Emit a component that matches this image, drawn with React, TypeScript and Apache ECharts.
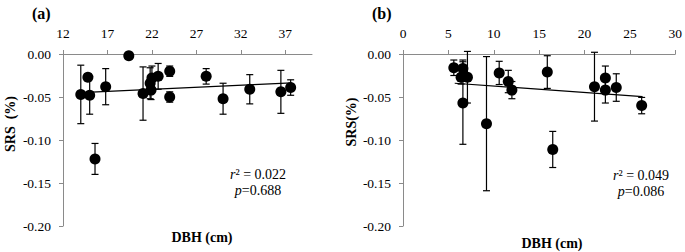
import React, { useEffect, useRef } from "react";
import * as echarts from "echarts";

// Panel (a)
const aDBH = [14.0, 14.8, 15.0, 15.6, 16.8, 19.4, 21.0, 21.8, 22.0, 21.9, 22.7, 24.0, 24.0, 28.1, 30.0, 33.0, 36.5, 37.6];
const aSRS = [-0.047, -0.027, -0.048, -0.122, -0.038, -0.002, -0.046, -0.034, -0.028, -0.042, -0.026, -0.020, -0.050, -0.026, -0.052, -0.041, -0.044, -0.039];
const aErr = [0.034, 0.004, 0.022, 0.018, 0.021, 0, 0.031, 0.018, 0.014, 0.011, 0.015, 0.006, 0.006, 0.009, 0.018, 0.017, 0.025, 0.009];
const aTrend = [[14.0, -0.045], [37.7, -0.0335]];
const aTicks = [12, 17, 22, 27, 32, 37];

// Panel (b)
const bDBH = [5.6, 6.6, 6.4, 7.1, 6.6, 9.2, 10.6, 11.6, 12.0, 15.9, 16.5, 21.1, 22.3, 22.3, 23.5, 26.3];
const bSRS = [-0.016, -0.017, -0.027, -0.027, -0.057, -0.081, -0.022, -0.032, -0.042, -0.021, -0.111, -0.038, -0.028, -0.042, -0.039, -0.060];
const bErr = [0.009, 0.01, 0.008, 0.03, 0.048, 0.078, 0.0135, 0.013, 0.01, 0.019, 0.021, 0.04, 0.014, 0.015, 0.016, 0.0095];
const bTrend = [[5.7, -0.034], [26.4, -0.0496]];

const yMin = -0.2;
const yMax = 0;

const FONT = "Liberation Serif";
const AXIS_GRAY = "#8a8a8a";
const LABEL_SIZE = 13.5;

function errRender(params: any, api: any) {
  const x = api.value(0);
  const y = api.value(1);
  const e = api.value(2);
  if (!e) return { type: "group", children: [] };
  const top = api.coord([x, y + e]);
  const bot = api.coord([x, y - e]);
  const c = 3.5;
  const style = { stroke: "#000", lineWidth: 1.2 };
  return {
    type: "group",
    children: [
      { type: "line", shape: { x1: top[0], y1: top[1], x2: bot[0], y2: bot[1] }, style },
      { type: "line", shape: { x1: top[0] - c, y1: top[1], x2: top[0] + c, y2: top[1] }, style },
      { type: "line", shape: { x1: bot[0] - c, y1: bot[1], x2: bot[0] + c, y2: bot[1] }, style },
    ],
  };
}

function xAxisFor(gridIndex: number, min: number, max: number, ticks?: number[]) {
  const ax: any = {
    gridIndex,
    type: "value",
    position: "top",
    min,
    max,
    axisLine: { show: true, onZero: false, lineStyle: { color: AXIS_GRAY, width: 1 } },
    axisTick: { show: true, inside: false, length: 4, lineStyle: { color: AXIS_GRAY } },
    axisLabel: { color: "#000", fontFamily: FONT, fontSize: LABEL_SIZE, margin: 14 },
    splitLine: { show: false },
  };
  if (ticks) {
    ax.axisTick.customValues = ticks;
    ax.axisLabel.customValues = ticks;
  } else {
    ax.interval = 5;
  }
  return ax;
}

function yAxisFor(gridIndex: number) {
  return {
    gridIndex,
    type: "value",
    min: yMin,
    max: yMax,
    interval: 0.05,
    axisLine: { show: true, onZero: false, lineStyle: { color: AXIS_GRAY, width: 1 } },
    axisTick: { show: true, inside: false, length: 4, lineStyle: { color: AXIS_GRAY } },
    axisLabel: {
      color: "#000",
      fontFamily: FONT,
      fontSize: LABEL_SIZE,
      margin: 12,
      formatter: (v: number) => v.toFixed(2),
    },
    splitLine: { show: false },
  };
}

export default function App() {
  const ref = useRef<HTMLDivElement>(null);
  useEffect(() => {
    if (!ref.current) return;
    const chart = echarts.init(ref.current, null, { renderer: "svg" });
    const aData = aDBH.map((x, i) => [x, aSRS[i], aErr[i]]);
    const bData = bDBH.map((x, i) => [x, bSRS[i], bErr[i]]);
    const titleStyle = { fontFamily: FONT, fontWeight: "bold", fontSize: 14, fill: "#000" };
    const statStyle = {
      align: "center",
      verticalAlign: "middle",
      fontFamily: FONT,
      fontSize: 14,
      fill: "#000",
      rich: { i: { fontStyle: "italic", fontFamily: FONT, fontSize: 14, fill: "#000" } },
    };
    const scatter = (idx: number, data: number[][]) => ({
      type: "scatter",
      xAxisIndex: idx,
      yAxisIndex: idx,
      data: data.map((d) => [d[0], d[1]]),
      symbol: "circle",
      symbolSize: 11,
      itemStyle: { color: "#000", opacity: 1 },
      clip: false,
      z: 4,
    });
    const errs = (idx: number, data: number[][]) => ({
      type: "custom",
      xAxisIndex: idx,
      yAxisIndex: idx,
      renderItem: errRender,
      encode: { x: 0, y: 1 },
      data,
      clip: false,
      z: 2,
    });
    const trend = (idx: number, data: number[][]) => ({
      type: "line",
      xAxisIndex: idx,
      yAxisIndex: idx,
      data,
      showSymbol: false,
      lineStyle: { color: "#000", width: 1.2 },
      z: 3,
    });
    const option: any = {
      animation: false,
      backgroundColor: "#fff",
      grid: [
        { left: 63, top: 54, width: 249, height: 172 },
        { left: 403, top: 54, width: 275, height: 172 },
      ],
      xAxis: [xAxisFor(0, 12, 40, aTicks), xAxisFor(1, 0, 30)],
      yAxis: [yAxisFor(0), yAxisFor(1)],
      series: [
        errs(0, aData),
        trend(0, aTrend),
        scatter(0, aData),
        errs(1, bData),
        trend(1, bTrend),
        scatter(1, bData),
      ],
      graphic: [
        { type: "text", x: 32, y: 5, style: { text: "(a)", fontFamily: FONT, fontWeight: "bold", fontSize: 16, fill: "#000" } },
        { type: "text", x: 372, y: 5, style: { text: "(b)", fontFamily: FONT, fontWeight: "bold", fontSize: 16, fill: "#000" } },
        {
          type: "text",
          x: 10,
          y: 124,
          rotation: Math.PI / 2,
          style: { ...titleStyle, text: "SRS  (%)", align: "center", verticalAlign: "middle" },
        },
        {
          type: "text",
          x: 351,
          y: 122,
          rotation: Math.PI / 2,
          style: { ...titleStyle, text: "SRS(%)", align: "center", verticalAlign: "middle" },
        },
        {
          type: "text",
          x: 202,
          y: 237,
          style: { ...titleStyle, text: "DBH (cm)", align: "center", verticalAlign: "middle" },
        },
        {
          type: "text",
          x: 552,
          y: 243,
          style: { ...titleStyle, text: "DBH (cm)", align: "center", verticalAlign: "middle" },
        },
        { type: "text", x: 258, y: 174, style: { ...statStyle, text: "{i|r}² = 0.022" } },
        { type: "text", x: 258, y: 190, style: { ...statStyle, text: "{i|p}=0.688" } },
        { type: "text", x: 641, y: 175, style: { ...statStyle, text: "{i|r}² = 0.049" } },
        { type: "text", x: 641, y: 191, style: { ...statStyle, text: "{i|p}=0.086" } },
      ],
    };
    chart.setOption(option);
    return () => chart.dispose();
  }, []);
  return (
    <div
      ref={ref}
      style={{ position: "fixed", left: 0, top: 0, width: 685, height: 252, background: "#fff" }}
    />
  );
}
